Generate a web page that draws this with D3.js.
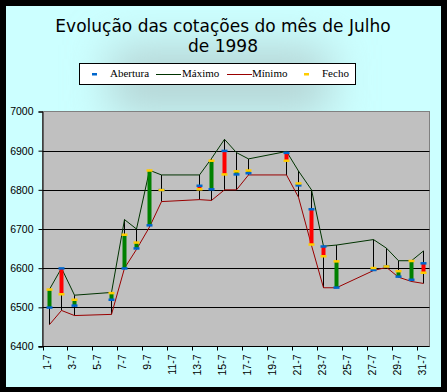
<!DOCTYPE html>
<html>
<head>
<meta charset="utf-8">
<script src="https://cdn.jsdelivr.net/npm/d3@7"></script>
<style>
    body { margin: 0; background: #000; }
    svg { display: block; }
</style>
</head>
<body>
<div id="graph-ctn"></div>
<script>
// chart data: july 1998 quotes
const dayLabels = d3.range(1, 32).map(d => `${d}-7`);
const tradeDays = ['1-7', '2-7', '3-7', '6-7', '7-7', '8-7', '9-7', '10-7', '13-7', '14-7', '15-7', '16-7', '17-7',
    '20-7', '21-7', '22-7', '23-7', '24-7', '27-7', '28-7', '29-7', '30-7', '31-7'];
const abertura = [6500, 6600, 6505, 6520, 6600, 6651, 6710, 6800, 6811, 6802, 6900, 6840, 6843,
    6895, 6812, 6751, 6656, 6551, 6596, 6605, 6579, 6571, 6613];
const maximo = [6546, 6600, 6531, 6538, 6724, 6700, 6850, 6838, 6838, 6880, 6929, 6895, 6879,
    6898, 6848, 6800, 6656, 6659, 6673, 6651, 6619, 6619, 6644];
const minimo = [6456, 6492, 6479, 6482, 6600, 6648, 6705, 6770, 6775, 6773, 6800, 6800, 6838,
    6838, 6781, 6658, 6550, 6550, 6594, 6602, 6577, 6566, 6561];
const fecho = [6546, 6534, 6520, 6537, 6686, 6666, 6850, 6800, 6802, 6875, 6840, 6848, 6850,
    6875, 6817, 6661, 6631, 6618, 6601, 6605, 6593, 6619, 6589];
const yTicks = [6400, 6500, 6600, 6700, 6800, 6900, 7000];
const xTickLabels = dayLabels.filter((d, i) => i % 2 === 0);

const data = tradeDays.map((d, i) => ({
    day: d, open: abertura[i], high: maximo[i], low: minimo[i], close: fecho[i]
}));

const W = 447, H = 392;
const plot = { left: 42.5, right: 429.5, top: 111.5, bottom: 346.5 };

const svg = d3.select('#graph-ctn')
    .append('svg')
    .attr('width', W)
    .attr('height', H);

// background + soft shadow
const defs = svg.append('defs');
defs.append('filter').attr('id', 'blur')
    .attr('x', '-50%').attr('y', '-50%').attr('width', '200%').attr('height', '200%')
    .append('feGaussianBlur').attr('stdDeviation', 22);

svg.append('rect').attr('width', W).attr('height', H).attr('fill', '#000');
svg.append('rect')
    .attr('x', 6).attr('y', 6).attr('width', 435).attr('height', 381)
    .attr('fill', '#ccffff');
svg.append('g')
    .append('rect')
    .attr('x', 110).attr('y', 45).attr('width', 220).attr('height', 70)
    .attr('fill', '#b6d6d6')
    .attr('filter', 'url(#blur)');

const x = d3.scaleBand()
    .domain(dayLabels)
    .range([plot.left, plot.right])
    .padding(0);

const y = d3.scaleLinear()
    .domain([6400, 7000])
    .range([plot.bottom, plot.top]);

// plot area
svg.append('rect')
    .attr('x', plot.left).attr('y', plot.top)
    .attr('width', plot.right - plot.left).attr('height', plot.bottom - plot.top)
    .attr('fill', '#c0c0c0')
    .attr('stroke', '#808080');

// gridlines
svg.append('g')
    .selectAll('line')
    .data(yTicks.filter(v => v > 6400 && v < 7000))
    .enter()
    .append('line')
    .attr('x1', plot.left).attr('x2', plot.right)
    .attr('y1', d => Math.round(y(d)) + 0.5).attr('y2', d => Math.round(y(d)) + 0.5)
    .attr('stroke', '#000');

// y axis
const yAxis = svg.append('g')
    .attr('transform', `translate(${plot.left},0)`)
    .call(d3.axisLeft(y).tickValues(yTicks).tickSize(4).tickPadding(5).tickFormat(d3.format('d')));
yAxis.select('.domain').attr('stroke', '#000');
yAxis.selectAll('text')
    .attr('font-family', 'Liberation Sans, Arial, sans-serif')
    .attr('font-size', '10.5px')
    .attr('fill', '#000');

// x axis: ticks every two days at band edges
const xg = svg.append('g');
xg.append('line')
    .attr('x1', plot.left - 4).attr('x2', plot.right)
    .attr('y1', plot.bottom).attr('y2', plot.bottom)
    .attr('stroke', '#000');
xg.selectAll('.tick')
    .data(xTickLabels)
    .enter()
    .append('line')
    .attr('x1', d => Math.round(x(d)) + 0.5).attr('x2', d => Math.round(x(d)) + 0.5)
    .attr('y1', plot.bottom).attr('y2', plot.bottom + 4)
    .attr('stroke', '#000');
xg.selectAll('text')
    .data(xTickLabels)
    .enter()
    .append('text')
    .attr('transform', d => `translate(${x(d) + x.bandwidth() / 2 - 1},${plot.bottom + 8}) rotate(-90)`)
    .attr('text-anchor', 'end')
    .attr('dy', '0.35em')
    .attr('font-family', 'Liberation Sans, Arial, sans-serif')
    .attr('font-size', '10.5px')
    .text(d => d);

const cx = d => Math.round(x(d.day) + x.bandwidth() / 2);

// high-low lines
svg.append('g')
    .selectAll('line')
    .data(data)
    .enter()
    .append('line')
    .attr('x1', d => cx(d) + 0.5).attr('x2', d => cx(d) + 0.5)
    .attr('y1', d => y(d.low)).attr('y2', d => y(d.high))
    .attr('stroke', '#000');

// max / min series lines
const lineHigh = d3.line().x(d => cx(d) + 0.5).y(d => y(d.high));
const lineLow = d3.line().x(d => cx(d) + 0.5).y(d => y(d.low));
svg.append('path').datum(data)
    .attr('d', lineHigh)
    .attr('fill', 'none')
    .attr('stroke', '#003300');
svg.append('path').datum(data)
    .attr('d', lineLow)
    .attr('fill', 'none')
    .attr('stroke', '#990000');

// up-down bars
svg.append('g')
    .selectAll('rect')
    .data(data.filter(d => d.open !== d.close))
    .enter()
    .append('rect')
    .attr('x', d => cx(d) - 1.5)
    .attr('width', 4)
    .attr('y', d => y(Math.max(d.open, d.close)))
    .attr('height', d => Math.abs(y(d.open) - y(d.close)))
    .attr('fill', d => d.close > d.open ? '#008000' : '#ff0000');

// open / close markers
svg.append('g')
    .selectAll('rect')
    .data(data)
    .enter()
    .append('rect')
    .attr('x', d => cx(d) - 2.5)
    .attr('y', d => y(d.open) - 1)
    .attr('width', 6).attr('height', 2.5)
    .attr('fill', '#0066cc');
svg.append('g')
    .selectAll('rect')
    .data(data)
    .enter()
    .append('rect')
    .attr('x', d => cx(d) - 2.5)
    .attr('y', d => y(d.close) - 1)
    .attr('width', 6).attr('height', 2.5)
    .attr('fill', '#ffcc00');

// title
const title = svg.append('text')
    .attr('text-anchor', 'middle')
    .attr('font-family', 'DejaVu Sans, Verdana, sans-serif')
    .attr('font-size', '17px')
    .attr('fill', '#000');
title.append('tspan').attr('x', 223).attr('y', 32).text('Evolução das cotações do mês de Julho');
title.append('tspan').attr('x', 223).attr('y', 52).text('de 1998');

// legend
const legend = svg.append('g');
legend.append('rect')
    .attr('x', 79.5).attr('y', 63.5).attr('width', 276).attr('height', 21)
    .attr('fill', '#fff').attr('stroke', '#000');

const legItems = [
    { name: 'Abertura', kind: 'mark', color: '#0066cc', x: 92, tx: 110 },
    { name: 'Máximo', kind: 'line', color: '#003300', x: 156, tx: 182 },
    { name: 'Mínimo', kind: 'line', color: '#990000', x: 227, tx: 252 },
    { name: 'Fecho', kind: 'mark', color: '#ffcc00', x: 304, tx: 322 }
];
legItems.forEach(it => {
    if (it.kind === 'mark') {
        legend.append('rect')
            .attr('x', it.x).attr('y', 73).attr('width', 5).attr('height', 2.5)
            .attr('fill', it.color);
    } else {
        legend.append('line')
            .attr('x1', it.x).attr('x2', it.x + 25)
            .attr('y1', 74.5).attr('y2', 74.5)
            .attr('stroke', it.color);
    }
    legend.append('text')
        .attr('x', it.tx).attr('y', 77)
        .attr('font-family', 'Liberation Serif, Times New Roman, serif')
        .attr('font-size', '11px')
        .text(it.name);
});
</script>
</body>
</html>
